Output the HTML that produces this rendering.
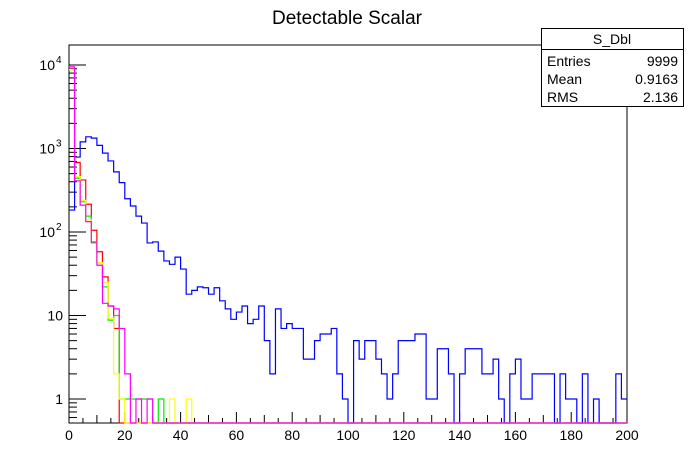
<!DOCTYPE html>
<html><head><meta charset="utf-8"><style>
body{margin:0;background:#fff;width:696px;height:472px;overflow:hidden}
svg{display:block;font-family:"Liberation Sans",sans-serif}
</style></head><body>
<svg id="c" width="696" height="472">
<rect width="696" height="472" fill="#fff"/>
<text x="347" y="24" font-size="19" text-anchor="middle">Detectable Scalar</text>
<rect x="69" y="45" width="558" height="378" fill="none" stroke="#000" stroke-width="1"/>
<g id="axes"></g>
<g id="plot"></g>
<g>
<rect x="541.5" y="28.5" width="142" height="78" fill="#fff" stroke="#000"/>
<line x1="541.5" y1="49.5" x2="683.5" y2="49.5" stroke="#000"/>
<text x="612" y="44" font-size="14" text-anchor="middle">S_Dbl</text>
<text x="547" y="66" font-size="14">Entries</text><text x="678" y="66" font-size="14" text-anchor="end">9999</text>
<text x="547" y="84" font-size="14">Mean</text><text x="678" y="84" font-size="14" text-anchor="end">0.9163</text>
<text x="547" y="102" font-size="14">RMS</text><text x="678" y="102" font-size="14" text-anchor="end">2.136</text>
</g>
</svg>
<script>
const binWidth = 2;
const blueVals = [183,790,1200,1380,1330,1090,880,710,525,390,250,205,155,128,74,76,59,45,41,50,36,18,20,22,21.5,18,21.5,15,12,9,11,13,8,9,13,5,2,12,7,8,7,7,3,3,5,6,6,7,2,1,0,5,3,5,5,3,2,1,2,5,5,5,6,6,1,1,4,4,2,0,2,4,4,4,2,2,3,1,0,2,3,1,1,2,2,2,2,0,2,1,1,0,2,0,1,0,0,0,2,1,1];
const redVals = [8900,680,420,215,105,58,29,13,7,0];
const greenVals = [8800,440,230,155,74,43,22,8.8,10,1,1,1,1,1,1,0,1];
const yellowVals = [8800,460,240,140,76,43,25,9.3,2,1,0,0,0,0,0,0,0,0,1,0,0,1];
const magentaVals = [9500,410,210,133,76,40,14,13,12,7,2,0,1,0,1];
const series = [["blue-histogram","#0000ff",blueVals],["red-histogram","#ff0000",redVals],["green-histogram","#00ee00",greenVals],["yellow-histogram","#ffff00",yellowVals],["magenta-histogram","#ff00ff",magentaVals]];
const xTicks = [0,20,40,60,80,100,120,140,160,180,200];
const yTicks = [1,10,100,1000,10000];
const yTickBase = ["1","10","10","10","10"];
const yTickExp = ["","","2","3","4"];
const NS="http://www.w3.org/2000/svg";
const X0=69,X1=627,Y0=423,YT=45,xmax=200;
const sx=v=>X0+(v/xmax)*(X1-X0);
const sy=v=>{if(v<=0.51)return Y0;return Math.max(YT,399-83.5*Math.log10(v));};
const plot=document.getElementById('plot'),axes=document.getElementById('axes');
series.forEach(([name,col,vals])=>{
  let d=`M${sx(0)},${sy(vals[0])}`;
  for(let i=0;i<xmax/binWidth;i++){
    const v=i<vals.length?vals[i]:0;
    d+=` L${sx(i*binWidth)},${sy(v)} L${sx((i+1)*binWidth)},${sy(v)}`;
  }
  const p=document.createElementNS(NS,'path');
  p.setAttribute('d',d);p.setAttribute('fill','none');p.setAttribute('stroke',col);p.setAttribute('stroke-width','1.2');
  
  
  plot.appendChild(p);
});
function ln(x1,y1,x2,y2){const l=document.createElementNS(NS,'line');l.setAttribute('x1',x1);l.setAttribute('y1',y1);l.setAttribute('x2',x2);l.setAttribute('y2',y2);l.setAttribute('stroke','#000');axes.appendChild(l);return l;}
function tx(x,y,s,anchor){const t=document.createElementNS(NS,'text');t.setAttribute('x',x);t.setAttribute('y',y);t.setAttribute('font-size','14');t.setAttribute('text-anchor',anchor);t.textContent=s;axes.appendChild(t);return t;}
for(let v=0;v<=xmax;v+=5){const len=v%20===0?11:(v%10===0?8:5);const l=ln(sx(v),Y0,sx(v),Y0-len);
  
  }
xTicks.forEach(v=>{const t=tx(sx(v),440,String(v),'middle');
  
  });
for(let e=-1;e<=4;e++){for(let m=1;m<10;m++){const v=m*Math.pow(10,e);const y=399-83.5*Math.log10(v);if(y>Y0||y<YT)continue;const len=m===1?17:8;const l=ln(X0,y,X0+len,y);
  
  }}
yTicks.forEach((v,i)=>{
  const y=sy(v)+5;
  const t=tx(yTickExp[i]?55:63,y,yTickBase[i],'end');
  
  
  if(yTickExp[i]){const s=tx(56,y-7,yTickExp[i],'start');s.setAttribute('font-size','10');
    
    }
});
</script>
</body></html>
